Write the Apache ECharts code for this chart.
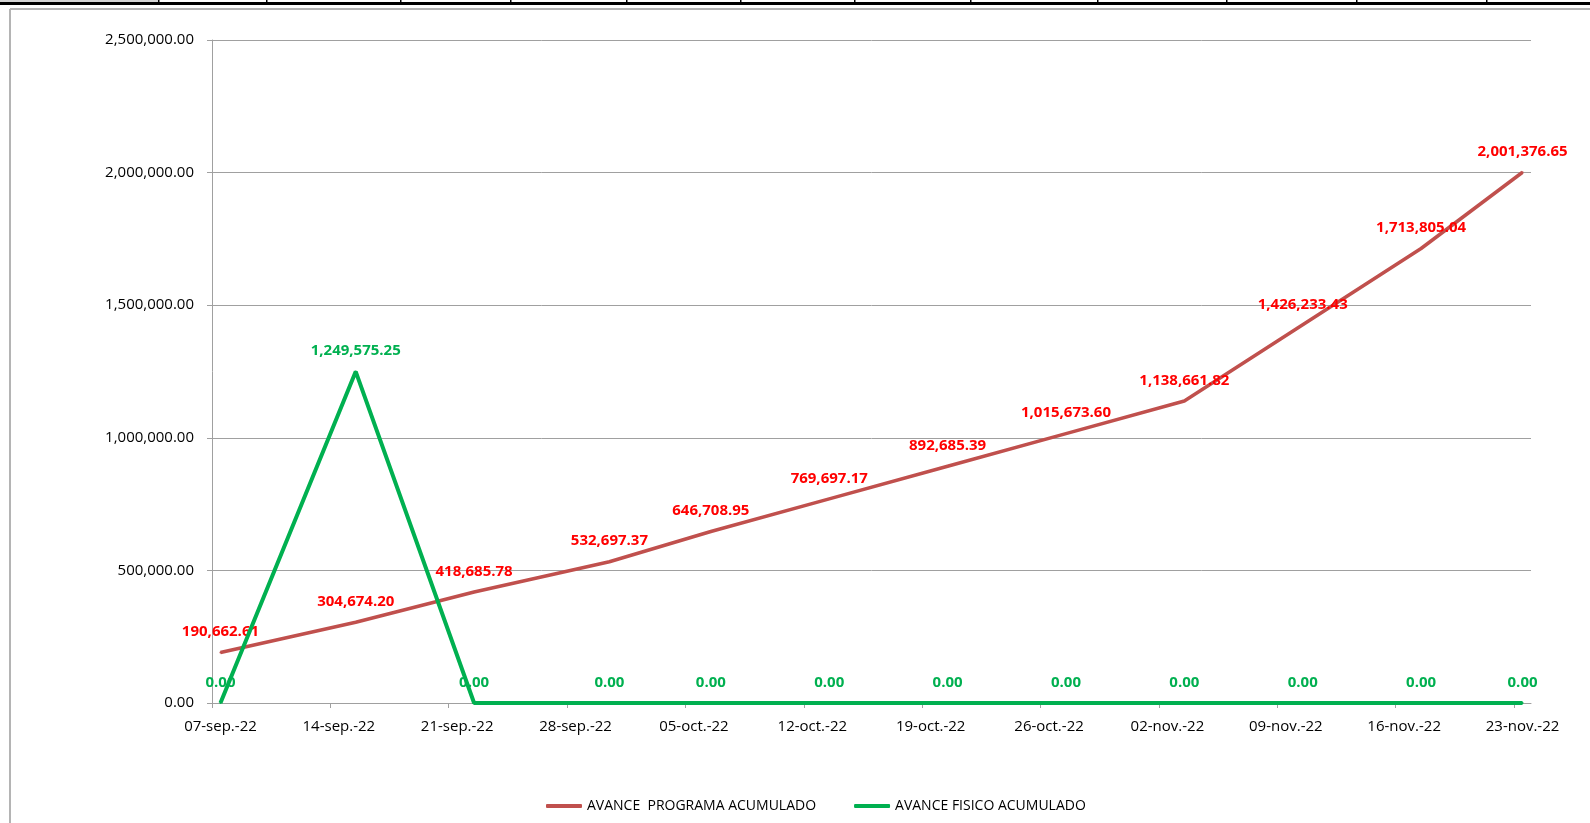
<!DOCTYPE html>
<html>
<head>
<meta charset="utf-8">
<script src="https://cdn.jsdelivr.net/npm/echarts@6/dist/echarts.min.js"></script>
<style>
  html, body { margin: 0; padding: 0; background: #fff; }
  #chart { width: 1590px; height: 823px; }
</style>
</head>
<body>
<div id="chart"></div>
<script>
    // fechas del eje (un tick por semana)
    var startDate = '2022-09-07';
    var axisDays = 78;
    var tickLabels = ['07-sep.-22', '14-sep.-22', '21-sep.-22', '28-sep.-22', '05-oct.-22', '12-oct.-22',
                      '19-oct.-22', '26-oct.-22', '02-nov.-22', '09-nov.-22', '16-nov.-22', '23-nov.-22'];

    // fechas de cada punto
    var pointDates = ['2022-09-07', '2022-09-15', '2022-09-22', '2022-09-30', '2022-10-06', '2022-10-13',
                      '2022-10-20', '2022-10-27', '2022-11-03', '2022-11-10', '2022-11-17', '2022-11-23'];

    var programa = [190662.61, 304674.20, 418685.78, 532697.37, 646708.95, 769697.17,
                    892685.39, 1015673.60, 1138661.82, 1426233.43, 1713805.04, 2001376.65];
    var fisico = [0, 1249575.25, 0, 0, 0, 0, 0, 0, 0, 0, 0, 0];

    var yTicks = [0, 500000, 1000000, 1500000, 2000000, 2500000];

    function dayIndex(s) {
        return (Date.parse(s) - Date.parse(startDate)) / 86400000;
    }

    function fmt(v) {
        var parts = v.toFixed(2).split('.');
        parts[0] = parts[0].replace(/\B(?=(\d{3})+(?!\d))/g, ',');
        return parts.join('.');
    }

    function toSeries(values) {
        return pointDates.map(function (d, i) {
            // excel coloca el punto a la mitad del dia
            return [dayIndex(d) + 0.5, values[i]];
        });
    }

    var tickValues = tickLabels.map(function (t, i) { return i * 7; });
    var labelValues = tickLabels.map(function (t, i) { return i * 7 + 0.5; });

    var chart = echarts.init(document.getElementById('chart'));
    var font = '"Open Sans", "Noto Sans", sans-serif';

    option = {
        animation: false,
        textStyle: { fontFamily: font },
        grid: {
            left: 212, top: 40, width: 1319, height: 663,
            outerBoundsMode: 'none'
        },
        legend: {
            left: 546, top: 799,
            padding: 0,
            icon: 'roundRect',
            itemWidth: 36, itemHeight: 4,
            itemGap: 38,
            textStyle: { fontSize: 14, color: '#000', fontFamily: font },
            data: ['AVANCE  PROGRAMA ACUMULADO', 'AVANCE FISICO ACUMULADO']
        },
        xAxis: {
            type: 'value',
            min: 0,
            max: axisDays,
            interval: 7,
            axisLine: { show: true, lineStyle: { color: '#a0a0a0', width: 1 } },
            axisTick: { show: true, length: 5, lineStyle: { color: '#a0a0a0' }, customValues: tickValues },
            splitLine: { show: false },
            axisLabel: {
                customValues: labelValues,
                margin: 16,
                fontSize: 15,
                color: '#000',
                fontFamily: font,
                formatter: function (v) {
                    return tickLabels[Math.round((v - 0.5) / 7)];
                }
            }
        },
        yAxis: {
            type: 'value',
            min: yTicks[0],
            max: yTicks[yTicks.length - 1],
            interval: 500000,
            axisLine: { show: true, lineStyle: { color: '#a0a0a0', width: 1 } },
            axisTick: { show: true, length: 5, lineStyle: { color: '#a0a0a0' } },
            splitLine: { show: true, lineStyle: { color: '#a0a0a0', width: 1 } },
            axisLabel: {
                margin: 18,
                fontSize: 15,
                color: '#000',
                fontFamily: font,
                formatter: function (v) { return fmt(v); }
            }
        },
        series: [{
            name: 'AVANCE  PROGRAMA ACUMULADO',
            type: 'line',
            data: toSeries(programa),
            symbol: 'circle',
            symbolSize: 2,
            itemStyle: { color: '#c0504d' },
            lineStyle: { color: '#c0504d', width: 3.5 },
            label: {
                show: true,
                position: 'top',
                distance: 12,
                color: '#ff0000',
                fontWeight: 'bold',
                fontSize: 15,
                fontFamily: font,
                formatter: function (p) { return fmt(p.value[1]); }
            },
            z: 2
        }, {
            name: 'AVANCE FISICO ACUMULADO',
            type: 'line',
            data: toSeries(fisico),
            symbol: 'circle',
            symbolSize: 2,
            itemStyle: { color: '#00b050' },
            lineStyle: { color: '#00b050', width: 4 },
            label: {
                show: true,
                position: 'top',
                distance: 12,
                color: '#00b050',
                fontWeight: 'bold',
                fontSize: 15,
                fontFamily: font,
                formatter: function (p) { return fmt(p.value[1]); }
            },
            z: 3
        }],
        graphic: [
            // restos de la hoja de calculo arriba
            { type: 'rect', shape: { x: 0, y: 0, width: 158, height: 2 }, style: { fill: '#d4d4d4' }, silent: true },
            { type: 'rect', shape: { x: 0, y: 2, width: 1590, height: 3 }, style: { fill: '#000' }, silent: true },
            // borde del grafico
            { type: 'line', shape: { x1: 10, y1: 9, x2: 1590, y2: 9 }, style: { stroke: '#b4b4b4', lineWidth: 2 }, silent: true },
            { type: 'line', shape: { x1: 10, y1: 9, x2: 10, y2: 823 }, style: { stroke: '#b4b4b4', lineWidth: 2 }, silent: true }
        ].concat([158, 266, 400, 510, 626, 740, 854, 970, 1097, 1226, 1356, 1486].map(function (x) {
            return { type: 'rect', shape: { x: x, y: 0, width: 1.5, height: 4 }, style: { fill: '#000' }, silent: true };
        }))
    };

    chart.setOption(option);
</script>
</body>
</html>
